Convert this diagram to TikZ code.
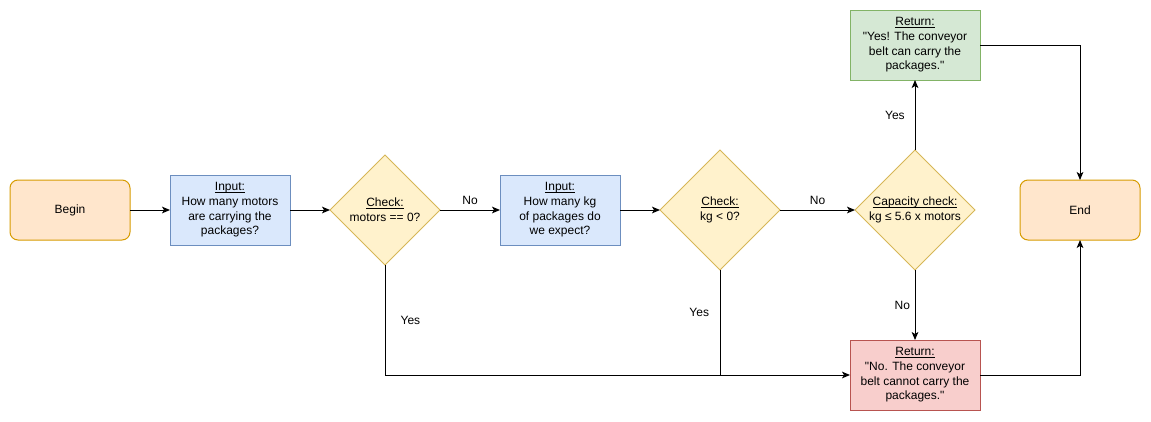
\documentclass[tikz,border=0pt]{standalone}
\usepackage[dvipsnames,rgb]{xcolor}
\usepackage{fontspec}
\setmainfont{Liberation Sans}[Ligatures=TeXOff]
\usetikzlibrary{positioning,shapes,arrows,arrows.meta,shapes.geometric}

\newcommand{\ulhead}[1]{\setbox0\hbox{#1}\rlap{\rule[-1.3pt]{\wd0}{0.5pt}}\box0}

\definecolor{endsfill}{HTML}{FFE6CC}
\definecolor{endsline}{HTML}{D79B00}
\definecolor{askfill}{HTML}{DAE8FC}
\definecolor{askline}{HTML}{6C8EBF}
\definecolor{testfill}{HTML}{FFF2CC}
\definecolor{testline}{HTML}{D6B656}
\definecolor{yesfill}{HTML}{D5E8D4}
\definecolor{yesline}{HTML}{82B366}
\definecolor{nofill}{HTML}{F8CECC}
\definecolor{noline}{HTML}{B85450}

\begin{document}
\begin{tikzpicture}[x=0.75pt, y=-0.75pt,
        font=\fontsize{9}{11}\selectfont,
        line width=0.75pt,
        terminal/.style={draw=endsline, fill=endsfill, rounded corners=6pt,
            outer sep=0pt, minimum width=90pt, minimum height=45pt},
        askbox/.style={draw=askline, fill=askfill, align=center, inner sep=0pt,
            outer sep=0pt, minimum width=90pt, minimum height=52.5pt},
        testbox/.style={diamond, draw=testline, fill=testfill, inner sep=0pt,
            outer sep=0pt, minimum width=#1, minimum height=#1},
        answer/.style={draw, align=center, inner sep=0pt, outer sep=0pt,
            minimum width=97.5pt, minimum height=52.5pt},
        flow/.style={-{Stealth[length=6pt, width=5pt, inset=1.5pt]}}]
        \useasboundingbox (0,0) rectangle (1151,421);

        % main row
        \node[terminal](begin) at (70,210) {Begin};
        \node[askbox, right = 30pt of begin](motors)
            {\ulhead{Input:}\\How many motors\\are carrying the\\packages?};
        \node[testbox=82.5pt, right = 30pt of motors](chkmotors){};
        \node[align=center](chkmotorstxt) at (chkmotors)
            {\ulhead{Check:}\\motors == 0?};
        \node[askbox, right = 45pt of chkmotors](kg)
            {\ulhead{Input:}\\How many kg\\of packages do\\we expect?};
        \node[testbox=90pt, right = 30pt of kg](chkkg){};
        \node[align=center](chkkgtxt) at (chkkg)
            {\ulhead{Check:}\\kg < 0?};
        \node[testbox=90pt, right = 56.25pt of chkkg](capacity){};
        \node[align=center](capacitytxt) at (capacity)
            {\ulhead{Capacity check:}\\kg ≤ 5.6 x motors};
        \node[terminal, right = 33.75pt of capacity](end) {End};

        % answers
        \node[answer, draw=yesline, fill=yesfill,
            above = 52.5pt of capacity](retyes)
            {\ulhead{Return:}\\"Yes! The conveyor\\belt can carry the\\packages."};
        \node[answer, draw=noline, fill=nofill,
            below = 52.5pt of capacity](retno)
            {\ulhead{Return:}\\"No. The conveyor\\belt cannot carry the\\packages."};
        \coordinate(join) at (chkkg.south |- retno.west);

        \draw[flow] (begin) to (motors);
        \draw[flow] (motors) to (chkmotors);
        \draw[flow] (chkmotors)
            to node[above] {No}
            (kg);
        \draw[flow] (kg) to (chkkg);
        \draw[flow] (chkkg)
            to node[above] {No}
            (capacity);
        \draw[flow] (capacity)
            to node[left = 4pt] {Yes}
            (retyes);
        \draw[flow] (capacity)
            to node[left = 0pt] {No}
            (retno);
        \draw[flow] (chkmotors.south)
            |- node[pos=0.25, right = 8pt] {Yes}
            (retno.west);
        \draw (chkkg.south)
            to node[pos=0.4, left = 4.5pt] {Yes}
            (join);
        \draw[flow] (retyes) -| (end);
        \draw[flow] (retno) -| (end);
    \end{tikzpicture}
\end{document}
